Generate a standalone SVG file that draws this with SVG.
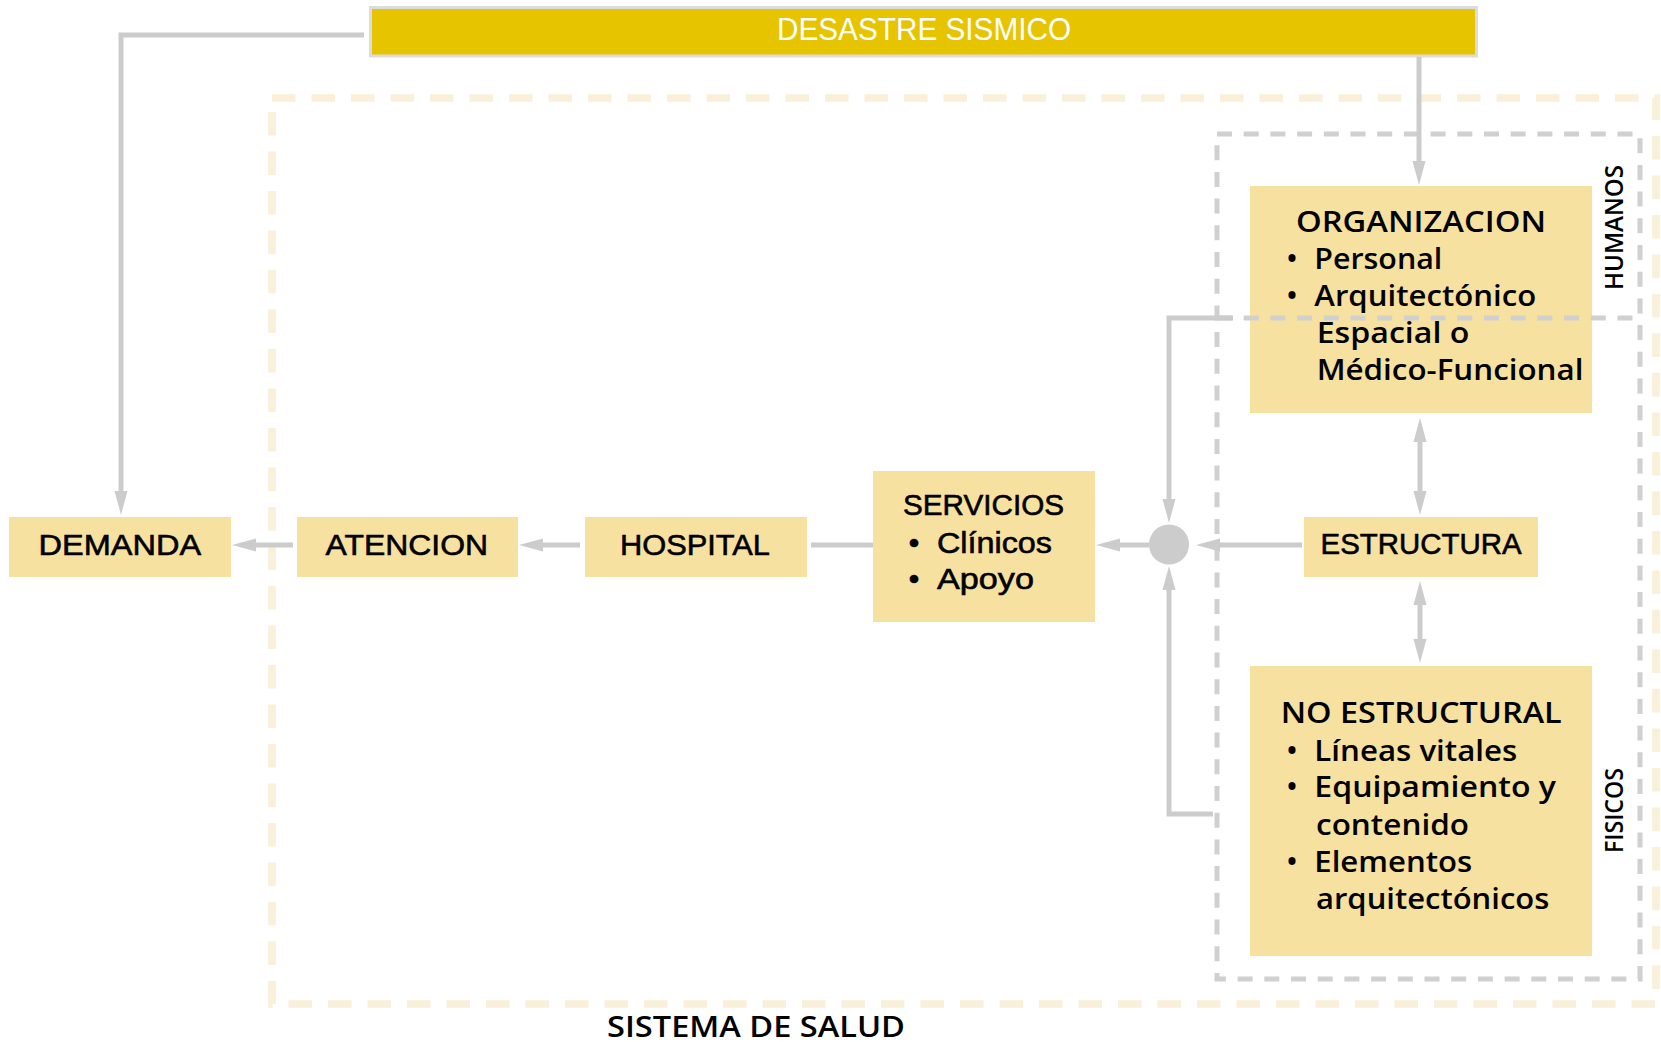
<svg xmlns="http://www.w3.org/2000/svg" width="1661" height="1042" viewBox="0 0 1661 1042">
<style>
.box{fill:#F7E1A0}
.c{font-family:"Liberation Sans Narrow","Liberation Sans",Arial,sans-serif;font-size:30px;fill:#000;stroke:#000;stroke-width:0.6}
.h{font-family:"Open Sans","Noto Sans",sans-serif;font-weight:600;font-size:29px;fill:#000}
.v{font-family:"Open Sans","Noto Sans",sans-serif;font-weight:600;font-size:25px;fill:#000}
.ln{fill:none;stroke:#CCCCCC;stroke-width:5}
</style>
<defs>
<marker id="ah" viewBox="0 -7 24 14" refX="0" refY="0" markerWidth="24" markerHeight="14" markerUnits="userSpaceOnUse" orient="auto-start-reverse">
<path d="M0,-6.5 L24,0 L0,6.5 z" fill="#CCCCCC"/>
</marker>
</defs>
<rect width="1661" height="1042" fill="#FFFFFF"/>

<g id="frames">
<rect x="272" y="98" width="1384" height="906" fill="none" stroke="#FAF0D9" stroke-width="7.5" stroke-dasharray="23.5 16"/>
<rect x="1217" y="134" width="423" height="845" fill="none" stroke="#D0D0D0" stroke-width="5" stroke-dasharray="15 11.7"/>
</g>

<g id="desastre">
<rect x="370.5" y="7.5" width="1106" height="48.5" fill="#E6C400" stroke="#DCDCDC" stroke-width="3"/>
<text x="777" y="39.5" class="c" style="font-size:32px;fill:#FFFFFF;stroke:none" textLength="294" lengthAdjust="spacingAndGlyphs">DESASTRE SISMICO</text>
</g>

<g id="demanda">
<rect class="box" x="9" y="517" width="222" height="60"/>
<text x="38.6" y="554.5" class="c" textLength="162.5" lengthAdjust="spacingAndGlyphs">DEMANDA</text>
</g>
<g id="atencion">
<rect class="box" x="297" y="517" width="221" height="60"/>
<text x="325.6" y="554.5" class="c" textLength="162.5" lengthAdjust="spacingAndGlyphs">ATENCION</text>
</g>
<g id="hospital">
<rect class="box" x="585" y="517" width="222" height="60"/>
<text x="620" y="554.5" class="c" textLength="150" lengthAdjust="spacingAndGlyphs">HOSPITAL</text>
</g>
<g id="servicios">
<rect class="box" x="873" y="471" width="222" height="151"/>
<text x="903" y="515" class="c" textLength="161" lengthAdjust="spacingAndGlyphs">SERVICIOS</text>
<text x="914" y="553" class="c" text-anchor="middle">•</text>
<text x="937" y="553" class="c" textLength="115" lengthAdjust="spacingAndGlyphs">Clínicos</text>
<text x="914" y="589" class="c" text-anchor="middle">•</text>
<text x="937" y="589" class="c" textLength="97" lengthAdjust="spacingAndGlyphs">Apoyo</text>
</g>
<g id="estructura">
<rect class="box" x="1304" y="517" width="234" height="60"/>
<text x="1320.6" y="554" class="c" textLength="201" lengthAdjust="spacingAndGlyphs">ESTRUCTURA</text>
</g>
<g id="organizacion">
<rect class="box" x="1250" y="186" width="342" height="227"/>
<text x="1296" y="231.7" class="h" textLength="250" lengthAdjust="spacingAndGlyphs">ORGANIZACION</text>
<text x="1292" y="269" class="h" text-anchor="middle">•</text>
<text x="1314.3" y="269" class="h" textLength="128" lengthAdjust="spacingAndGlyphs">Personal</text>
<text x="1292" y="305.7" class="h" text-anchor="middle">•</text>
<text x="1314.3" y="305.7" class="h" textLength="222" lengthAdjust="spacingAndGlyphs">Arquitectónico</text>
<text x="1316.7" y="342.7" class="h" textLength="152.7" lengthAdjust="spacingAndGlyphs">Espacial o</text>
<text x="1316.7" y="380" class="h" textLength="266.7" lengthAdjust="spacingAndGlyphs">Médico-Funcional</text>
</g>
<g id="noestructural">
<rect class="box" x="1250" y="666" width="342" height="290"/>
<text x="1280.7" y="723.3" class="h" textLength="281" lengthAdjust="spacingAndGlyphs">NO ESTRUCTURAL</text>
<text x="1292" y="760.7" class="h" text-anchor="middle">•</text>
<text x="1314.3" y="760.7" class="h" textLength="203" lengthAdjust="spacingAndGlyphs">Líneas vitales</text>
<text x="1292" y="797.3" class="h" text-anchor="middle">•</text>
<text x="1314.3" y="797.3" class="h" textLength="241.7" lengthAdjust="spacingAndGlyphs">Equipamiento y</text>
<text x="1316" y="835" class="h" textLength="153" lengthAdjust="spacingAndGlyphs">contenido</text>
<text x="1292" y="872.3" class="h" text-anchor="middle">•</text>
<text x="1314.3" y="872.3" class="h" textLength="158" lengthAdjust="spacingAndGlyphs">Elementos</text>
<text x="1316" y="909.3" class="h" textLength="233.3" lengthAdjust="spacingAndGlyphs">arquitectónicos</text>
</g>

<g id="divider">
<path d="M1217,318 H1640" fill="none" stroke="#D0D0D0" stroke-width="5" stroke-dasharray="15 11.7"/>
</g>

<g id="labels">
<text transform="translate(1623,227.5) rotate(-90)" class="v" text-anchor="middle" textLength="125" lengthAdjust="spacingAndGlyphs">HUMANOS</text>
<text transform="translate(1623,810.5) rotate(-90)" class="v" text-anchor="middle" textLength="85" lengthAdjust="spacingAndGlyphs">FISICOS</text>
<text x="607" y="1036.7" class="h" textLength="298" lengthAdjust="spacingAndGlyphs">SISTEMA DE SALUD</text>
</g>

<g id="connectors">
<path class="ln" d="M364,35 H121 V491" marker-end="url(#ah)"/>
<path class="ln" d="M1419,57 V161" marker-end="url(#ah)"/>
<path class="ln" d="M293,545 H256" marker-end="url(#ah)"/>
<path class="ln" d="M580,545 H543" marker-end="url(#ah)"/>
<path class="ln" d="M811,545 H873"/>
<path class="ln" d="M1149,545 H1120" marker-end="url(#ah)"/>
<path class="ln" d="M1302,545 H1220" marker-end="url(#ah)"/>
<path class="ln" d="M1233,318 H1169 V499" marker-end="url(#ah)"/>
<path class="ln" d="M1213,814 H1169 V590" marker-end="url(#ah)"/>
<path class="ln" d="M1420,442 V491" marker-start="url(#ah)" marker-end="url(#ah)"/>
<path class="ln" d="M1420,605 V639" marker-start="url(#ah)" marker-end="url(#ah)"/>
<circle id="junction" cx="1169" cy="544.5" r="20" fill="#CCCCCC"/>
</g>
</svg>
